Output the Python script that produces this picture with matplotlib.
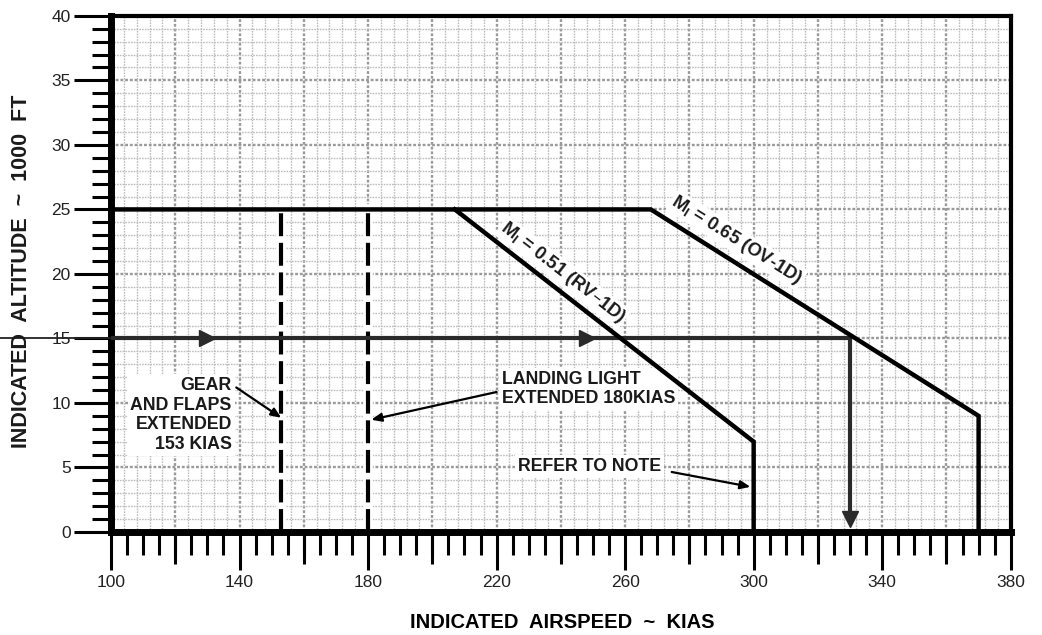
"""
Airspeed limitation chart: indicated altitude vs. indicated airspeed,
with Mach-limit boundaries and configuration limits.
"""

import matplotlib.pyplot as plt
from matplotlib.ticker import MultipleLocator

plt.rcParams["font.family"] = ["Liberation Sans", "DejaVu Sans"]

# ------------------------------------------------------------------
# Chart data
# ------------------------------------------------------------------

# M_I = 0.65 (OV-1D) boundary, including the 25,000 ft ceiling segment
mach065_kias = [100, 268, 370, 370]
mach065_alt = [25, 25, 9, 0]

# M_I = 0.51 (RV-1D) boundary
mach051_kias = [207, 300, 300]
mach051_alt = [25, 7, 0]

# configuration limits (dashed verticals)
gear_flaps_kias = 153
landing_light_kias = 180
config_alt = [0, 25]

# worked example: 15,000 ft across to the 0.65 line, then down
example_alt = 15
example_kias = [100, 330]
example_lead_in = [65, 100]
example_arrows_kias = [130, 248]

x_ticks = [100, 140, 180, 220, 260, 300, 340, 380]
x_mid_ticks = [120, 160, 200, 240, 280, 320, 360]
y_ticks = [0, 5, 10, 15, 20, 25, 30, 35, 40]

# ------------------------------------------------------------------
# Figure
# ------------------------------------------------------------------

fig = plt.figure(figsize=(10.42, 6.35), dpi=100)
ax = fig.add_axes([0.1065, 0.1622, 0.8635, 0.8128])

ax.set_xlim(100, 380)
ax.set_ylim(0, 40)

# graph-paper grid
for gx in range(104, 380, 4):
    heavy = (gx - 100) % 20 == 0
    ax.axvline(gx, color="#9a9a9a" if heavy else "#bdbdbd",
               lw=1.7 if heavy else 1.0, ls=(0, (1.2, 0.8)), zorder=0)
for gy in range(1, 40):
    heavy = gy % 5 == 0
    ax.axhline(gy, color="#9a9a9a" if heavy else "#bdbdbd",
               lw=1.7 if heavy else 1.0, ls=(0, (1.2, 0.8)), zorder=0)

# boundaries (drawn above the label boxes)
ax.plot(mach065_kias, mach065_alt, color="black", lw=3.2,
        solid_joinstyle="miter", zorder=9)
ax.plot(mach051_kias, mach051_alt, color="black", lw=3.2,
        solid_joinstyle="miter", zorder=9)

# configuration limits: black dashes over a white halo
for kias in (gear_flaps_kias, landing_light_kias):
    ax.plot([kias, kias], config_alt, color="white", lw=7, zorder=2)
    ax.plot([kias, kias], config_alt, color="black", lw=3,
            dashes=(5.5, 1.6), zorder=3)

# worked example path
ax.plot(example_lead_in, [example_alt, example_alt], color="#222222",
        lw=1.3, clip_on=False, zorder=5)
ax.plot(example_kias, [example_alt, example_alt], color="#2a2a2a",
        lw=3.0, zorder=8)
ax.plot([example_kias[-1], example_kias[-1]], [example_alt, 1.0],
        color="#2a2a2a", lw=3.0, zorder=8)
ax.plot(example_arrows_kias, [example_alt] * len(example_arrows_kias),
        ls="none", marker=">", ms=11, color="#2a2a2a", zorder=8)
ax.plot([example_kias[-1]], [1.0], ls="none", marker="v", ms=12,
        color="#2a2a2a", zorder=8)

# ------------------------------------------------------------------
# Annotations
# ------------------------------------------------------------------

box = dict(facecolor="white", edgecolor="none", pad=2)
arrow = dict(arrowstyle="-|>,head_length=0.6,head_width=0.25",
             color="black", lw=1.6, shrinkA=0, shrinkB=0)
label_font = dict(fontsize=12.8, fontweight="bold", color="#1a1a1a")

ax.text(137.6, 12.0, "GEAR\nAND FLAPS\nEXTENDED\n153 KIAS",
        ha="right", va="top", linespacing=1.2, bbox=box, zorder=7,
        **label_font)
ax.annotate("", xy=(gear_flaps_kias, 8.85), xytext=(139, 11.2),
            arrowprops=arrow, zorder=8)

ax.text(221.7, 12.5, "LANDING LIGHT\nEXTENDED 180KIAS",
        ha="left", va="top", linespacing=1.2, bbox=box, zorder=7,
        **label_font)
ax.annotate("", xy=(landing_light_kias + 1, 8.7), xytext=(220, 10.85),
            arrowprops=arrow, zorder=8)

ax.text(226.6, 5.05, "REFER TO NOTE", ha="left", va="center",
        bbox=box, zorder=7, **label_font)
ax.annotate("", xy=(299, 3.5), xytext=(274.5, 4.65),
            arrowprops=arrow, zorder=8)

ax.text(240.6, 20.1, "M$_\\mathregular{I}$ = 0.51 (RV\u20131D)",
        rotation=-37.8, rotation_mode="anchor", ha="center", va="center",
        bbox=dict(facecolor="white", edgecolor="none", pad=1), zorder=7,
        fontsize=13.2, fontweight="bold", color="#1a1a1a")
ax.text(294.8, 22.6, "M$_\\mathregular{I}$ = 0.65 (OV-1D)",
        rotation=-32.1, rotation_mode="anchor", ha="center", va="center",
        bbox=dict(facecolor="white", edgecolor="none", pad=1), zorder=7,
        fontsize=13.2, fontweight="bold", color="#1a1a1a")

# ------------------------------------------------------------------
# Axes styling
# ------------------------------------------------------------------

for side in ("left", "bottom"):
    ax.spines[side].set_linewidth(5)
for side in ("top", "right"):
    ax.spines[side].set_linewidth(3)

ax.set_xticks(x_ticks)
ax.xaxis.set_minor_locator(MultipleLocator(5))
ax.set_yticks(y_ticks)
ax.yaxis.set_minor_locator(MultipleLocator(1))

ax.tick_params(axis="x", which="major", length=27, width=2.2, pad=4,
               labelsize=12.5, labelcolor="#222222")
ax.tick_params(axis="x", which="minor", length=16.5, width=2.2)
ax.tick_params(axis="y", which="major", length=27, width=2.2, pad=2,
               labelsize=12.5, labelcolor="#222222")
ax.tick_params(axis="y", which="minor", length=14, width=2.2)

mid = ax.secondary_xaxis("bottom")
mid.set_xticks(x_mid_ticks)
mid.tick_params(length=23, width=2.2, labelbottom=False)
mid.spines["bottom"].set_visible(False)

fig.text(0.021, 0.572, "INDICATED  ALTITUDE  ~  1000  FT", rotation=90,
         ha="center", va="center", fontsize=15.5, fontweight="bold",
         color="#1a1a1a")
fig.text(0.54, 0.02, "INDICATED  AIRSPEED  ~  KIAS", ha="center",
         va="center", fontsize=14.5, fontweight="heavy", color="black")

fig.savefig("out.png", dpi=100)
